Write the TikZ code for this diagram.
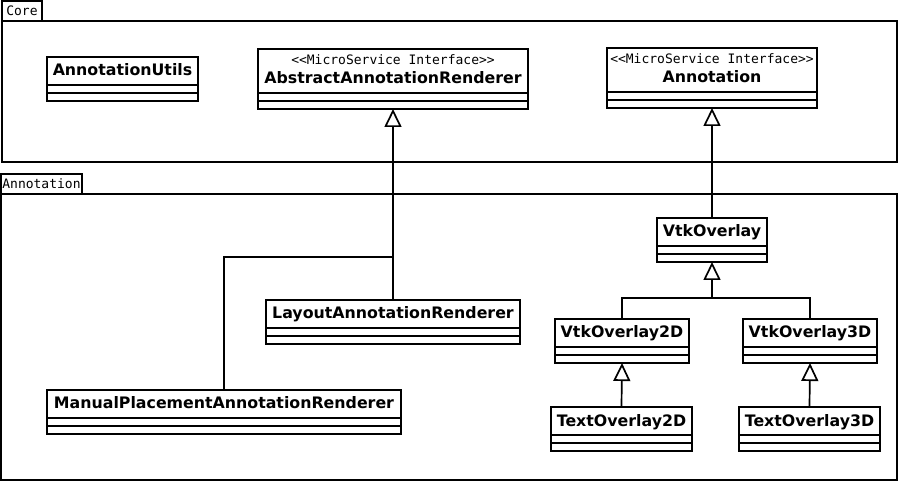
\documentclass[tikz,border=0pt]{standalone}
\usepackage{fontspec}
\setmainfont{DejaVu Sans}
\newfontfamily\umlmono{DejaVu Sans Mono}
\usepackage{tikz}
\usetikzlibrary{arrows.meta}

\newcommand{\umlname}[1]{\rule[-21pt]{0pt}{36pt}#1}
\newcommand{\umliface}[1]{\vbox{\halign{\hfil##\hfil\cr
	\rule{0pt}{12pt}{\umlmono\mdseries\fontsize{13}{19}\selectfont <<MicroService Interface>>}\cr
	\rule[-21pt]{0pt}{21pt}#1\cr}}}

\begin{document}
\begin{tikzpicture}
[
	x=1pt, y=-1pt,
	umlclass/.style={draw, line width=1.7pt, fill=white, inner xsep=2pt, inner ysep=4pt,
		outer sep=0pt, anchor=north west, font=\fontsize{15.8}{19}\selectfont\bfseries,
		path picture={
			\draw[line width=1.7pt] ([yshift=8pt]path picture bounding box.south west) -- ([yshift=8pt]path picture bounding box.south east);
			\draw[line width=1.7pt] ([yshift=16pt]path picture bounding box.south west) -- ([yshift=16pt]path picture bounding box.south east);
		}},
	package/.style={draw, line width=1.7pt, anchor=north west, outer sep=0pt, inner sep=0pt},
	pkgtab/.style={draw, line width=1.7pt, anchor=south west, outer sep=0pt, inner sep=0pt,
		minimum height=20pt, font=\umlmono\fontsize{13}{15}\selectfont},
	inherit/.style={line width=1.7pt, -{Triangle[open, length=18pt, width=17pt]}},
	joinline/.style={line width=1.7pt}
]
	\useasboundingbox (0,0) rectangle (898,481);

	% packages
	\node[package, minimum width=895pt, minimum height=141pt] (corePkg) at (2,21) {};
	\node[pkgtab, minimum width=40pt] (coreTab) at (corePkg.north west) {Core};
	\node[package, minimum width=896pt, minimum height=286pt] (annoPkg) at (1,194) {};
	\node[pkgtab, minimum width=81pt] (annoTab) at (annoPkg.north west) {Annotation};

	% Core classes
	\node[umlclass, minimum width=151pt] (Utils) at (47,57) {\umlname{AnnotationUtils}};
	\node[umlclass, minimum width=270pt] (Abstract) at (258,49) {\umliface{AbstractAnnotationRenderer}};
	\node[umlclass, minimum width=210pt] (Annotation) at (607,48) {\umliface{Annotation}};

	% Annotation classes
	\node[umlclass, minimum width=110pt] (Vtk) at (657,218) {\umlname{VtkOverlay}};
	\node[umlclass, minimum width=134pt] (Vtk2D) at (555,319) {\umlname{VtkOverlay2D}};
	\node[umlclass, minimum width=134pt] (Vtk3D) at (743,319) {\umlname{VtkOverlay3D}};
	\node[umlclass, minimum width=141pt] (Text2D) at (551,407) {\umlname{TextOverlay2D}};
	\node[umlclass, minimum width=141pt] (Text3D) at (739,407) {\umlname{TextOverlay3D}};
	\node[umlclass, minimum width=254pt] (Layout) at (266,300) {\umlname{LayoutAnnotationRenderer}};
	\node[umlclass, minimum width=354pt] (Manual) at (47,390) {\umlname{ManualPlacementAnnotationRenderer}};

	\coordinate (absJoin) at (393,257);
	\coordinate (vtkJoin) at (712,298);

	\draw[inherit] (Layout.north) -- (Abstract.south);
	\draw[joinline] (Manual.north) |- (absJoin);
	\draw[inherit] (Vtk.north) -- (Annotation.south);
	\draw[inherit] (Vtk2D.north) |- (vtkJoin) -- (Vtk.south);
	\draw[joinline] (Vtk3D.north) |- (vtkJoin);
	\draw[inherit] (Text2D.north) -- (Vtk2D.south);
	\draw[inherit] (Text3D.north) -- (Vtk3D.south);
\end{tikzpicture}
\end{document}
